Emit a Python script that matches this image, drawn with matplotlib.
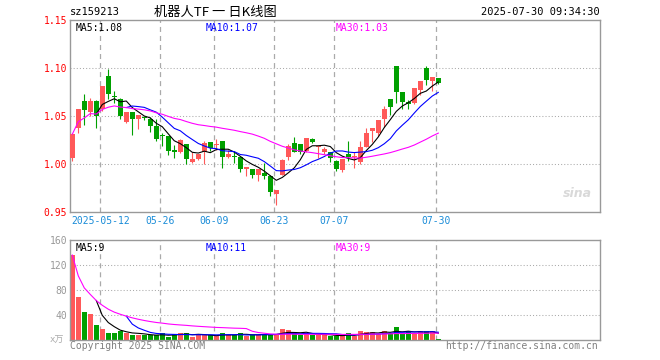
import matplotlib
matplotlib.use('Agg')
import matplotlib.pyplot as plt
import numpy as np
import pandas as pd

# ---------------- data ----------------
opens = [1.006, 1.038, 1.066, 1.054, 1.066, 1.057, 1.092, 1.071, 1.068, 1.044,
         1.054, 1.047, 1.049, 1.047, 1.040, 1.030, 1.029, 1.015, 1.012, 1.021,
         1.002, 1.005, 1.012, 1.023, 1.020, 1.024, 1.007, 1.008, 1.007, 0.995,
         0.995, 0.989, 0.991, 0.987, 0.969, 0.989, 1.007, 1.022, 1.021, 1.014,
         1.026, 1.018, 1.012, 1.012, 1.003, 0.994, 1.010, 1.007, 1.002, 1.018,
         1.034, 1.032, 1.047, 1.068, 1.102, 1.075, 1.065, 1.064, 1.077, 1.100,
         1.086, 1.090]
highs = [1.032, 1.057, 1.073, 1.069, 1.067, 1.081, 1.099, 1.076, 1.069, 1.054,
         1.054, 1.051, 1.050, 1.049, 1.047, 1.032, 1.029, 1.020, 1.026, 1.021,
         1.012, 1.010, 1.024, 1.023, 1.026, 1.024, 1.015, 1.014, 1.007, 0.997,
         0.995, 0.995, 1.001, 0.989, 0.973, 1.005, 1.021, 1.028, 1.021, 1.027,
         1.027, 1.019, 1.018, 1.013, 1.004, 1.005, 1.024, 1.012, 1.024, 1.037,
         1.037, 1.046, 1.060, 1.068, 1.102, 1.075, 1.067, 1.079, 1.086, 1.102,
         1.091, 1.090]
lows = [1.003, 1.032, 1.041, 1.050, 1.038, 1.055, 1.068, 1.064, 1.047, 1.043,
        1.030, 1.036, 1.046, 1.033, 1.024, 1.019, 1.009, 1.006, 1.011, 1.000,
        1.001, 1.004, 1.000, 1.014, 1.015, 0.996, 1.006, 1.001, 0.992, 0.987,
        0.985, 0.982, 0.984, 0.967, 0.957, 0.989, 1.004, 1.012, 1.010, 1.013,
        1.022, 1.006, 1.010, 1.002, 0.993, 0.992, 1.003, 0.996, 1.000, 1.018,
        1.023, 1.029, 1.039, 1.051, 1.064, 1.057, 1.057, 1.063, 1.072, 1.082,
        1.076, 1.083]
closes = [1.031, 1.057, 1.056, 1.066, 1.050, 1.081, 1.073, 1.070, 1.050, 1.054,
          1.047, 1.051, 1.048, 1.040, 1.026, 1.029, 1.014, 1.012, 1.025, 1.005,
          1.005, 1.010, 1.022, 1.017, 1.021, 1.007, 1.010, 1.007, 0.995, 0.997,
          0.989, 0.995, 0.987, 0.971, 0.973, 1.004, 1.019, 1.013, 1.013, 1.027,
          1.023, 1.019, 1.016, 1.006, 0.995, 1.005, 1.007, 1.008, 1.018, 1.032,
          1.037, 1.046, 1.057, 1.059, 1.075, 1.065, 1.063, 1.079, 1.086, 1.087,
          1.091, 1.084]
volumes = [136, 69.3, 44.8, 41.6, 24, 17.6, 11.7, 11.7, 13.9, 11.2,
           8, 8.5, 7.5, 7.5, 7.5, 11, 4.8, 9.6, 11.2, 11.2,
           5.5, 8, 7.5, 7.5, 6, 11.5, 8, 8, 12, 6,
           8, 8, 10, 10, 8, 17.6, 15.5, 9, 8, 12,
           8, 8, 8, 6.4, 6.4, 6.4, 11.7, 6.4, 14.4, 12.8,
           12.8, 9.6, 14.4, 11.7, 20.8, 9, 14.4, 9, 14.4, 14.4,
           14.4, 1.6]
date_labels = ['2025-05-12', '05-26', '06-09', '06-23', '07-07', '07-30']
date_index = [5, 15, 24, 34, 44, 61]
price_ticks = [0.95, 1.00, 1.05, 1.10, 1.15]
vol_ticks = [40, 80, 120, 160]

# ---------------- style ----------------
RED = '#ff5959'
GREEN = '#00a000'
GRID = '#aaaaaa'
FRAME = '#999999'
plt.rcParams['lines.scale_dashes'] = False
MONO = 'DejaVu Sans Mono'

W, H = 660, 360
fig = plt.figure(figsize=(W / 100, H / 100), dpi=100)


def rect(l, t, r, b):
    return [l / W, 1 - b / H, (r - l) / W, (b - t) / H]


ax = fig.add_axes(rect(70, 20, 600, 212))
axv = fig.add_axes(rect(70, 240, 600, 340))

o = np.array(opens); h = np.array(highs); l = np.array(lows); c = np.array(closes)
v = np.array(volumes)
idx = np.arange(len(c))
up = c >= o
colors = np.where(up, RED, GREEN)

XL = (-0.38, 87.95)

# ---------------- price panel ----------------
for yy in [1.00, 1.05, 1.10]:
    ax.axhline(yy, color=GRID, lw=0.75, linestyle=(0, (0.75, 1.5)), zorder=0)
for di in date_index:
    ax.axvline(di - 0.3, color=GRID, lw=0.9, linestyle=(0, (3.6, 2.9)), zorder=0)
    axv.axvline(di - 0.3, color=GRID, lw=0.9, linestyle=(0, (3.6, 2.9)), zorder=0)

ax.vlines(idx, l, h, colors=colors, lw=0.8, zorder=2)
body = np.maximum(np.abs(c - o), 0.0008)
ax.bar(idx, body, bottom=np.minimum(o, c), width=0.75, color=colors, zorder=3,
       linewidth=0)

cs = pd.Series(c)
ma5 = cs.rolling(5).mean()
ma10 = cs.rolling(10).mean()
ma30 = cs.rolling(30, min_periods=1).mean()
ax.plot(idx, ma5, color='black', lw=0.8, zorder=4)
ax.plot(idx, ma10, color='#0000ff', lw=0.8, zorder=4)
ax.plot(idx, ma30, color='#ff00ff', lw=0.8, zorder=4)

ax.set_xlim(*XL)
ax.set_ylim(0.95, 1.15)
ax.set_yticks(price_ticks)
ax.set_yticklabels(['%.2f' % t for t in price_ticks], family=MONO, fontsize=7,
                   color='#ff0000')
ax.set_xticks([d - 0.3 for d in date_index])
ax.set_xticklabels(date_labels, family=MONO, fontsize=7, color='#1a8cd8')
ax.tick_params(length=0, pad=2)
ax.tick_params(axis='x', pad=3)
for s in ax.spines.values():
    s.set_color(FRAME)
    s.set_linewidth(1)

ax.text(0.01, 0.985, 'MA5:%.2f' % 1.08, transform=ax.transAxes, family=MONO,
        fontsize=7, color='black', va='top', ha='left')
ax.text(0.255, 0.985, 'MA10:%.2f' % 1.07, transform=ax.transAxes, family=MONO,
        fontsize=7, color='#0000ff', va='top', ha='left')
ax.text(0.502, 0.985, 'MA30:%.2f' % 1.03, transform=ax.transAxes, family=MONO,
        fontsize=7, color='#ff00ff', va='top', ha='left')
ax.text(0.985, 0.06, 'sina', transform=ax.transAxes, fontsize=9, color='#d9d9d9',
        style='italic', fontweight='bold', ha='right', va='bottom')

# ---------------- volume panel ----------------
for yy in [40, 80, 120]:
    axv.axhline(yy, color=GRID, lw=0.75, linestyle=(0, (0.75, 1.5)), zorder=0)
axv.bar(idx, v, width=0.75, color=colors, linewidth=0, zorder=2)
vs = pd.Series(v)
axv.plot(idx, vs.rolling(5).mean(), color='black', lw=0.8, zorder=4)
axv.plot(idx, vs.rolling(10).mean(), color='#0000ff', lw=0.8, zorder=4)
axv.plot(idx, vs.rolling(30, min_periods=1).mean(), color='#ff00ff', lw=0.8, zorder=4)
axv.set_xlim(*XL)
axv.set_ylim(0, 160)
axv.set_xticks([])
axv.set_yticks(vol_ticks)
axv.set_yticklabels([str(t) for t in vol_ticks], family=MONO, fontsize=7,
                    color='#999999')
axv.tick_params(length=0, pad=2)
for s in axv.spines.values():
    s.set_color(FRAME)
    s.set_linewidth(1)
axv.text(-0.012, 0.0, 'x万', transform=axv.transAxes, fontsize=6.5,
         color='#aaaaaa', ha='right', va='center',
         family=['DejaVu Sans Mono', 'Noto Sans CJK SC'])
axv.text(0.01, 0.97, 'MA5:9', transform=axv.transAxes, family=MONO, fontsize=7,
         color='black', va='top', ha='left')
axv.text(0.255, 0.97, 'MA10:11', transform=axv.transAxes, family=MONO, fontsize=7,
         color='#0000ff', va='top', ha='left')
axv.text(0.502, 0.97, 'MA30:9', transform=axv.transAxes, family=MONO, fontsize=7,
         color='#ff00ff', va='top', ha='left')

# ---------------- header / footer ----------------
fig.text(70 / W, 1 - 12 / H, 'sz159213', family=MONO, fontsize=7.5,
         color='black', ha='left', va='center')
fig.text(215 / W, 1 - 12 / H, '机器人TF 一 日K线图', fontsize=9.5,
         family=['Noto Sans CJK SC', 'DejaVu Sans'], color='black',
         ha='center', va='center')
fig.text(600 / W, 1 - 12 / H, '2025-07-30 09:34:30', family=MONO, fontsize=7.5,
         color='black', ha='right', va='center')
fig.text(70 / W, 1 - 346 / H, 'Copyright 2025 SINA.COM', family=MONO,
         fontsize=7, color='#808080', ha='left', va='center')
fig.text(598 / W, 1 - 346 / H, 'http://finance.sina.com.cn', family=MONO,
         fontsize=7, color='#808080', ha='right', va='center')

fig.savefig('out.png', dpi=100)
